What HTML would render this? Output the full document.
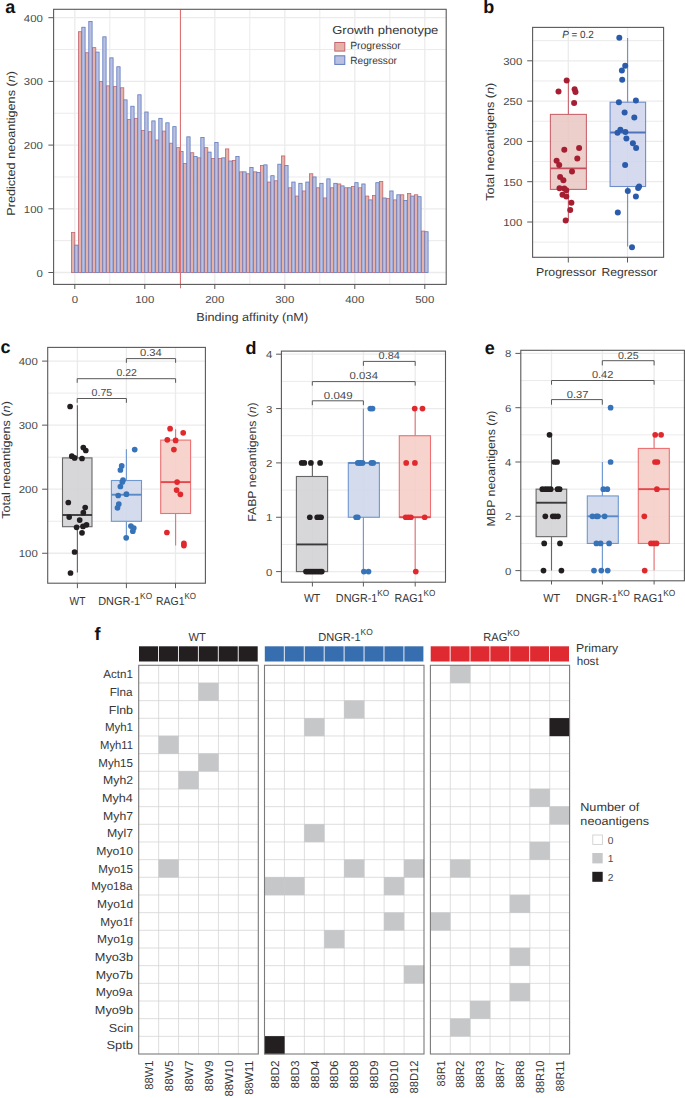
<!DOCTYPE html>
<html><head><meta charset="utf-8"><title>Figure</title>
<style>
html,body{margin:0;padding:0;background:#fff;}
#fig{position:relative;width:685px;height:1098px;overflow:hidden;background:#fff;}
svg{display:block;font-family:"Liberation Sans", sans-serif;text-rendering:geometricPrecision;}
</style></head>
<body><div id="fig">
<svg width="685" height="1098" viewBox="0 0 685 1098">
<line x1="53.6" y1="272.5" x2="446.2" y2="272.5" stroke="#ebebeb" stroke-width="1.3"/>
<line x1="53.6" y1="240.65" x2="446.2" y2="240.65" stroke="#ebebeb" stroke-width="1"/>
<line x1="53.6" y1="208.8" x2="446.2" y2="208.8" stroke="#ebebeb" stroke-width="1.3"/>
<line x1="53.6" y1="176.95" x2="446.2" y2="176.95" stroke="#ebebeb" stroke-width="1"/>
<line x1="53.6" y1="145.1" x2="446.2" y2="145.1" stroke="#ebebeb" stroke-width="1.3"/>
<line x1="53.6" y1="113.25" x2="446.2" y2="113.25" stroke="#ebebeb" stroke-width="1"/>
<line x1="53.6" y1="81.4" x2="446.2" y2="81.4" stroke="#ebebeb" stroke-width="1.3"/>
<line x1="53.6" y1="49.55" x2="446.2" y2="49.55" stroke="#ebebeb" stroke-width="1"/>
<line x1="53.6" y1="17.7" x2="446.2" y2="17.7" stroke="#ebebeb" stroke-width="1.3"/>
<line x1="74.8" y1="9.3" x2="74.8" y2="284.4" stroke="#ebebeb" stroke-width="1.3"/>
<line x1="109.8" y1="9.3" x2="109.8" y2="284.4" stroke="#ebebeb" stroke-width="1"/>
<line x1="144.8" y1="9.3" x2="144.8" y2="284.4" stroke="#ebebeb" stroke-width="1.3"/>
<line x1="179.8" y1="9.3" x2="179.8" y2="284.4" stroke="#ebebeb" stroke-width="1"/>
<line x1="214.8" y1="9.3" x2="214.8" y2="284.4" stroke="#ebebeb" stroke-width="1.3"/>
<line x1="249.8" y1="9.3" x2="249.8" y2="284.4" stroke="#ebebeb" stroke-width="1"/>
<line x1="284.8" y1="9.3" x2="284.8" y2="284.4" stroke="#ebebeb" stroke-width="1.3"/>
<line x1="319.8" y1="9.3" x2="319.8" y2="284.4" stroke="#ebebeb" stroke-width="1"/>
<line x1="354.8" y1="9.3" x2="354.8" y2="284.4" stroke="#ebebeb" stroke-width="1.3"/>
<line x1="389.8" y1="9.3" x2="389.8" y2="284.4" stroke="#ebebeb" stroke-width="1"/>
<line x1="424.8" y1="9.3" x2="424.8" y2="284.4" stroke="#ebebeb" stroke-width="1.3"/>
<rect x="71.5" y="232.37" width="3.3" height="40.13" fill="#e5b2a8" stroke="#c4646e" stroke-width="0.8"/>
<rect x="78.5" y="31.71" width="3.3" height="240.79" fill="#e5b2a8" stroke="#c4646e" stroke-width="0.8"/>
<rect x="85.5" y="52.73" width="3.3" height="219.77" fill="#e5b2a8" stroke="#c4646e" stroke-width="0.8"/>
<rect x="92.5" y="47.64" width="3.3" height="224.86" fill="#e5b2a8" stroke="#c4646e" stroke-width="0.8"/>
<rect x="99.5" y="81.4" width="3.3" height="191.1" fill="#e5b2a8" stroke="#c4646e" stroke-width="0.8"/>
<rect x="106.5" y="85.86" width="3.3" height="186.64" fill="#e5b2a8" stroke="#c4646e" stroke-width="0.8"/>
<rect x="113.5" y="86.5" width="3.3" height="186" fill="#e5b2a8" stroke="#c4646e" stroke-width="0.8"/>
<rect x="120.5" y="87.77" width="3.3" height="184.73" fill="#e5b2a8" stroke="#c4646e" stroke-width="0.8"/>
<rect x="127.5" y="119.62" width="3.3" height="152.88" fill="#e5b2a8" stroke="#c4646e" stroke-width="0.8"/>
<rect x="134.5" y="118.35" width="3.3" height="154.15" fill="#e5b2a8" stroke="#c4646e" stroke-width="0.8"/>
<rect x="141.5" y="130.45" width="3.3" height="142.05" fill="#e5b2a8" stroke="#c4646e" stroke-width="0.8"/>
<rect x="148.5" y="131.72" width="3.3" height="140.78" fill="#e5b2a8" stroke="#c4646e" stroke-width="0.8"/>
<rect x="155.5" y="140" width="3.3" height="132.5" fill="#e5b2a8" stroke="#c4646e" stroke-width="0.8"/>
<rect x="162.5" y="131.09" width="3.3" height="141.41" fill="#e5b2a8" stroke="#c4646e" stroke-width="0.8"/>
<rect x="169.5" y="143.19" width="3.3" height="129.31" fill="#e5b2a8" stroke="#c4646e" stroke-width="0.8"/>
<rect x="176.5" y="147.65" width="3.3" height="124.85" fill="#e5b2a8" stroke="#c4646e" stroke-width="0.8"/>
<rect x="183.5" y="163.57" width="3.3" height="108.93" fill="#e5b2a8" stroke="#c4646e" stroke-width="0.8"/>
<rect x="190.5" y="152.74" width="3.3" height="119.76" fill="#e5b2a8" stroke="#c4646e" stroke-width="0.8"/>
<rect x="197.5" y="157.84" width="3.3" height="114.66" fill="#e5b2a8" stroke="#c4646e" stroke-width="0.8"/>
<rect x="204.5" y="147.65" width="3.3" height="124.85" fill="#e5b2a8" stroke="#c4646e" stroke-width="0.8"/>
<rect x="211.5" y="158.48" width="3.3" height="114.02" fill="#e5b2a8" stroke="#c4646e" stroke-width="0.8"/>
<rect x="218.5" y="158.48" width="3.3" height="114.02" fill="#e5b2a8" stroke="#c4646e" stroke-width="0.8"/>
<rect x="225.5" y="148.92" width="3.3" height="123.58" fill="#e5b2a8" stroke="#c4646e" stroke-width="0.8"/>
<rect x="232.5" y="160.39" width="3.3" height="112.11" fill="#e5b2a8" stroke="#c4646e" stroke-width="0.8"/>
<rect x="239.5" y="171.85" width="3.3" height="100.65" fill="#e5b2a8" stroke="#c4646e" stroke-width="0.8"/>
<rect x="246.5" y="173.76" width="3.3" height="98.74" fill="#e5b2a8" stroke="#c4646e" stroke-width="0.8"/>
<rect x="253.5" y="171.85" width="3.3" height="100.65" fill="#e5b2a8" stroke="#c4646e" stroke-width="0.8"/>
<rect x="260.5" y="165.48" width="3.3" height="107.02" fill="#e5b2a8" stroke="#c4646e" stroke-width="0.8"/>
<rect x="267.5" y="182.05" width="3.3" height="90.45" fill="#e5b2a8" stroke="#c4646e" stroke-width="0.8"/>
<rect x="274.5" y="180.77" width="3.3" height="91.73" fill="#e5b2a8" stroke="#c4646e" stroke-width="0.8"/>
<rect x="281.5" y="155.93" width="3.3" height="116.57" fill="#e5b2a8" stroke="#c4646e" stroke-width="0.8"/>
<rect x="288.5" y="187.78" width="3.3" height="84.72" fill="#e5b2a8" stroke="#c4646e" stroke-width="0.8"/>
<rect x="295.5" y="196.06" width="3.3" height="76.44" fill="#e5b2a8" stroke="#c4646e" stroke-width="0.8"/>
<rect x="302.5" y="190.96" width="3.3" height="81.54" fill="#e5b2a8" stroke="#c4646e" stroke-width="0.8"/>
<rect x="309.5" y="173.76" width="3.3" height="98.74" fill="#e5b2a8" stroke="#c4646e" stroke-width="0.8"/>
<rect x="316.5" y="187.78" width="3.3" height="84.72" fill="#e5b2a8" stroke="#c4646e" stroke-width="0.8"/>
<rect x="323.5" y="197.97" width="3.3" height="74.53" fill="#e5b2a8" stroke="#c4646e" stroke-width="0.8"/>
<rect x="330.5" y="187.78" width="3.3" height="84.72" fill="#e5b2a8" stroke="#c4646e" stroke-width="0.8"/>
<rect x="337.5" y="183.96" width="3.3" height="88.54" fill="#e5b2a8" stroke="#c4646e" stroke-width="0.8"/>
<rect x="344.5" y="187.78" width="3.3" height="84.72" fill="#e5b2a8" stroke="#c4646e" stroke-width="0.8"/>
<rect x="351.5" y="186.5" width="3.3" height="86" fill="#e5b2a8" stroke="#c4646e" stroke-width="0.8"/>
<rect x="358.5" y="187.78" width="3.3" height="84.72" fill="#e5b2a8" stroke="#c4646e" stroke-width="0.8"/>
<rect x="365.5" y="196.06" width="3.3" height="76.44" fill="#e5b2a8" stroke="#c4646e" stroke-width="0.8"/>
<rect x="372.5" y="195.42" width="3.3" height="77.08" fill="#e5b2a8" stroke="#c4646e" stroke-width="0.8"/>
<rect x="379.5" y="181.41" width="3.3" height="91.09" fill="#e5b2a8" stroke="#c4646e" stroke-width="0.8"/>
<rect x="386.5" y="198.61" width="3.3" height="73.89" fill="#e5b2a8" stroke="#c4646e" stroke-width="0.8"/>
<rect x="393.5" y="199.88" width="3.3" height="72.62" fill="#e5b2a8" stroke="#c4646e" stroke-width="0.8"/>
<rect x="400.5" y="194.79" width="3.3" height="77.71" fill="#e5b2a8" stroke="#c4646e" stroke-width="0.8"/>
<rect x="407.5" y="193.51" width="3.3" height="78.99" fill="#e5b2a8" stroke="#c4646e" stroke-width="0.8"/>
<rect x="414.5" y="194.79" width="3.3" height="77.71" fill="#e5b2a8" stroke="#c4646e" stroke-width="0.8"/>
<rect x="421.5" y="231.09" width="3.3" height="41.41" fill="#e5b2a8" stroke="#c4646e" stroke-width="0.8"/>
<rect x="74.8" y="245.11" width="3.3" height="27.39" fill="#b9c0e1" stroke="#5f7bbf" stroke-width="0.8"/>
<rect x="81.8" y="27.25" width="3.3" height="245.25" fill="#b9c0e1" stroke="#5f7bbf" stroke-width="0.8"/>
<rect x="88.8" y="21.52" width="3.3" height="250.98" fill="#b9c0e1" stroke="#5f7bbf" stroke-width="0.8"/>
<rect x="95.8" y="52.1" width="3.3" height="220.4" fill="#b9c0e1" stroke="#5f7bbf" stroke-width="0.8"/>
<rect x="102.8" y="36.81" width="3.3" height="235.69" fill="#b9c0e1" stroke="#5f7bbf" stroke-width="0.8"/>
<rect x="109.8" y="57.83" width="3.3" height="214.67" fill="#b9c0e1" stroke="#5f7bbf" stroke-width="0.8"/>
<rect x="116.8" y="66.75" width="3.3" height="205.75" fill="#b9c0e1" stroke="#5f7bbf" stroke-width="0.8"/>
<rect x="123.8" y="99.87" width="3.3" height="172.63" fill="#b9c0e1" stroke="#5f7bbf" stroke-width="0.8"/>
<rect x="130.8" y="106.24" width="3.3" height="166.26" fill="#b9c0e1" stroke="#5f7bbf" stroke-width="0.8"/>
<rect x="137.8" y="94.78" width="3.3" height="177.72" fill="#b9c0e1" stroke="#5f7bbf" stroke-width="0.8"/>
<rect x="144.8" y="111.98" width="3.3" height="160.52" fill="#b9c0e1" stroke="#5f7bbf" stroke-width="0.8"/>
<rect x="151.8" y="120.89" width="3.3" height="151.61" fill="#b9c0e1" stroke="#5f7bbf" stroke-width="0.8"/>
<rect x="158.8" y="118.35" width="3.3" height="154.15" fill="#b9c0e1" stroke="#5f7bbf" stroke-width="0.8"/>
<rect x="165.8" y="122.81" width="3.3" height="149.69" fill="#b9c0e1" stroke="#5f7bbf" stroke-width="0.8"/>
<rect x="172.8" y="126.63" width="3.3" height="145.87" fill="#b9c0e1" stroke="#5f7bbf" stroke-width="0.8"/>
<rect x="179.8" y="151.47" width="3.3" height="121.03" fill="#b9c0e1" stroke="#5f7bbf" stroke-width="0.8"/>
<rect x="186.8" y="136.82" width="3.3" height="135.68" fill="#b9c0e1" stroke="#5f7bbf" stroke-width="0.8"/>
<rect x="193.8" y="156.57" width="3.3" height="115.93" fill="#b9c0e1" stroke="#5f7bbf" stroke-width="0.8"/>
<rect x="200.8" y="137.46" width="3.3" height="135.04" fill="#b9c0e1" stroke="#5f7bbf" stroke-width="0.8"/>
<rect x="207.8" y="152.11" width="3.3" height="120.39" fill="#b9c0e1" stroke="#5f7bbf" stroke-width="0.8"/>
<rect x="214.8" y="142.55" width="3.3" height="129.95" fill="#b9c0e1" stroke="#5f7bbf" stroke-width="0.8"/>
<rect x="221.8" y="157.84" width="3.3" height="114.66" fill="#b9c0e1" stroke="#5f7bbf" stroke-width="0.8"/>
<rect x="228.8" y="161.02" width="3.3" height="111.48" fill="#b9c0e1" stroke="#5f7bbf" stroke-width="0.8"/>
<rect x="235.8" y="156.57" width="3.3" height="115.93" fill="#b9c0e1" stroke="#5f7bbf" stroke-width="0.8"/>
<rect x="242.8" y="171.85" width="3.3" height="100.65" fill="#b9c0e1" stroke="#5f7bbf" stroke-width="0.8"/>
<rect x="249.8" y="167.39" width="3.3" height="105.11" fill="#b9c0e1" stroke="#5f7bbf" stroke-width="0.8"/>
<rect x="256.8" y="172.49" width="3.3" height="100.01" fill="#b9c0e1" stroke="#5f7bbf" stroke-width="0.8"/>
<rect x="263.8" y="164.85" width="3.3" height="107.65" fill="#b9c0e1" stroke="#5f7bbf" stroke-width="0.8"/>
<rect x="270.8" y="175.68" width="3.3" height="96.82" fill="#b9c0e1" stroke="#5f7bbf" stroke-width="0.8"/>
<rect x="277.8" y="164.21" width="3.3" height="108.29" fill="#b9c0e1" stroke="#5f7bbf" stroke-width="0.8"/>
<rect x="284.8" y="165.48" width="3.3" height="107.02" fill="#b9c0e1" stroke="#5f7bbf" stroke-width="0.8"/>
<rect x="291.8" y="182.05" width="3.3" height="90.45" fill="#b9c0e1" stroke="#5f7bbf" stroke-width="0.8"/>
<rect x="298.8" y="183.32" width="3.3" height="89.18" fill="#b9c0e1" stroke="#5f7bbf" stroke-width="0.8"/>
<rect x="305.8" y="182.05" width="3.3" height="90.45" fill="#b9c0e1" stroke="#5f7bbf" stroke-width="0.8"/>
<rect x="312.8" y="176.95" width="3.3" height="95.55" fill="#b9c0e1" stroke="#5f7bbf" stroke-width="0.8"/>
<rect x="319.8" y="183.32" width="3.3" height="89.18" fill="#b9c0e1" stroke="#5f7bbf" stroke-width="0.8"/>
<rect x="326.8" y="178.86" width="3.3" height="93.64" fill="#b9c0e1" stroke="#5f7bbf" stroke-width="0.8"/>
<rect x="333.8" y="183.32" width="3.3" height="89.18" fill="#b9c0e1" stroke="#5f7bbf" stroke-width="0.8"/>
<rect x="340.8" y="185.87" width="3.3" height="86.63" fill="#b9c0e1" stroke="#5f7bbf" stroke-width="0.8"/>
<rect x="347.8" y="187.78" width="3.3" height="84.72" fill="#b9c0e1" stroke="#5f7bbf" stroke-width="0.8"/>
<rect x="354.8" y="182.68" width="3.3" height="89.82" fill="#b9c0e1" stroke="#5f7bbf" stroke-width="0.8"/>
<rect x="361.8" y="183.96" width="3.3" height="88.54" fill="#b9c0e1" stroke="#5f7bbf" stroke-width="0.8"/>
<rect x="368.8" y="199.88" width="3.3" height="72.62" fill="#b9c0e1" stroke="#5f7bbf" stroke-width="0.8"/>
<rect x="375.8" y="182.68" width="3.3" height="89.82" fill="#b9c0e1" stroke="#5f7bbf" stroke-width="0.8"/>
<rect x="382.8" y="197.97" width="3.3" height="74.53" fill="#b9c0e1" stroke="#5f7bbf" stroke-width="0.8"/>
<rect x="389.8" y="190.96" width="3.3" height="81.54" fill="#b9c0e1" stroke="#5f7bbf" stroke-width="0.8"/>
<rect x="396.8" y="194.79" width="3.3" height="77.71" fill="#b9c0e1" stroke="#5f7bbf" stroke-width="0.8"/>
<rect x="403.8" y="200.52" width="3.3" height="71.98" fill="#b9c0e1" stroke="#5f7bbf" stroke-width="0.8"/>
<rect x="410.8" y="196.06" width="3.3" height="76.44" fill="#b9c0e1" stroke="#5f7bbf" stroke-width="0.8"/>
<rect x="417.8" y="196.7" width="3.3" height="75.8" fill="#b9c0e1" stroke="#5f7bbf" stroke-width="0.8"/>
<rect x="424.8" y="231.73" width="3.3" height="40.77" fill="#b9c0e1" stroke="#5f7bbf" stroke-width="0.8"/>
<line x1="180.5" y1="9.3" x2="180.5" y2="288.3" stroke="#db7274" stroke-width="1"/>
<rect x="53.6" y="9.3" width="392.6" height="275.1" fill="none" stroke="#595959" stroke-width="1.1"/>
<line x1="48.4" y1="272.5" x2="53.6" y2="272.5" stroke="#595959" stroke-width="1"/>
<text x="42.9" y="276.5" font-size="10.2" fill="#4a4a4a" text-anchor="end" textLength="6.35" lengthAdjust="spacingAndGlyphs">0</text>
<line x1="48.4" y1="208.8" x2="53.6" y2="208.8" stroke="#595959" stroke-width="1"/>
<text x="42.9" y="212.8" font-size="10.2" fill="#4a4a4a" text-anchor="end" textLength="19.05" lengthAdjust="spacingAndGlyphs">100</text>
<line x1="48.4" y1="145.1" x2="53.6" y2="145.1" stroke="#595959" stroke-width="1"/>
<text x="42.9" y="149.1" font-size="10.2" fill="#4a4a4a" text-anchor="end" textLength="19.05" lengthAdjust="spacingAndGlyphs">200</text>
<line x1="48.4" y1="81.4" x2="53.6" y2="81.4" stroke="#595959" stroke-width="1"/>
<text x="42.9" y="85.4" font-size="10.2" fill="#4a4a4a" text-anchor="end" textLength="19.05" lengthAdjust="spacingAndGlyphs">300</text>
<line x1="48.4" y1="17.7" x2="53.6" y2="17.7" stroke="#595959" stroke-width="1"/>
<text x="42.9" y="21.7" font-size="10.2" fill="#4a4a4a" text-anchor="end" textLength="19.05" lengthAdjust="spacingAndGlyphs">400</text>
<line x1="74.8" y1="284.4" x2="74.8" y2="289" stroke="#595959" stroke-width="1"/>
<text x="74.8" y="303.2" font-size="10.2" fill="#4a4a4a" text-anchor="middle" textLength="6.35" lengthAdjust="spacingAndGlyphs">0</text>
<line x1="144.8" y1="284.4" x2="144.8" y2="289" stroke="#595959" stroke-width="1"/>
<text x="144.8" y="303.2" font-size="10.2" fill="#4a4a4a" text-anchor="middle" textLength="19.05" lengthAdjust="spacingAndGlyphs">100</text>
<line x1="214.8" y1="284.4" x2="214.8" y2="289" stroke="#595959" stroke-width="1"/>
<text x="214.8" y="303.2" font-size="10.2" fill="#4a4a4a" text-anchor="middle" textLength="19.05" lengthAdjust="spacingAndGlyphs">200</text>
<line x1="284.8" y1="284.4" x2="284.8" y2="289" stroke="#595959" stroke-width="1"/>
<text x="284.8" y="303.2" font-size="10.2" fill="#4a4a4a" text-anchor="middle" textLength="19.05" lengthAdjust="spacingAndGlyphs">300</text>
<line x1="354.8" y1="284.4" x2="354.8" y2="289" stroke="#595959" stroke-width="1"/>
<text x="354.8" y="303.2" font-size="10.2" fill="#4a4a4a" text-anchor="middle" textLength="19.05" lengthAdjust="spacingAndGlyphs">400</text>
<line x1="424.8" y1="284.4" x2="424.8" y2="289" stroke="#595959" stroke-width="1"/>
<text x="424.8" y="303.2" font-size="10.2" fill="#4a4a4a" text-anchor="middle" textLength="19.05" lengthAdjust="spacingAndGlyphs">500</text>
<text x="196.18" y="321.1" font-size="11.6" fill="#363636" textLength="111.97" lengthAdjust="spacingAndGlyphs">Binding affinity (nM)</text>
<text transform="translate(15.3,215.71) rotate(-90)" x="0" y="0" font-size="11.6" fill="#363636" textLength="144.63" lengthAdjust="spacingAndGlyphs">Predicted neoantigens (<tspan font-style="italic">n</tspan>)</text>
<text x="332.25" y="33.8" font-size="11.6" fill="#363636" textLength="106.09" lengthAdjust="spacingAndGlyphs">Growth phenotype</text>
<rect x="334.8" y="42.5" width="10" height="8.6" fill="#e5b2a8" stroke="#c4646e" stroke-width="1"/>
<rect x="334.8" y="55.8" width="10" height="8.6" fill="#b9c0e1" stroke="#5f7bbf" stroke-width="1"/>
<text x="350.17" y="49.2" font-size="10.4" fill="#363636" textLength="50.64" lengthAdjust="spacingAndGlyphs">Progressor</text>
<text x="350.19" y="64.4" font-size="10.4" fill="#363636" textLength="46.74" lengthAdjust="spacingAndGlyphs">Regressor</text>
<text x="5.3" y="12.8" font-size="18" fill="#111" font-weight="bold">a</text>
<line x1="532.6" y1="242.15" x2="663.6" y2="242.15" stroke="#ebebeb" stroke-width="1"/>
<line x1="532.6" y1="222" x2="663.6" y2="222" stroke="#ebebeb" stroke-width="1.3"/>
<line x1="532.6" y1="201.85" x2="663.6" y2="201.85" stroke="#ebebeb" stroke-width="1"/>
<line x1="532.6" y1="181.7" x2="663.6" y2="181.7" stroke="#ebebeb" stroke-width="1.3"/>
<line x1="532.6" y1="161.55" x2="663.6" y2="161.55" stroke="#ebebeb" stroke-width="1"/>
<line x1="532.6" y1="141.4" x2="663.6" y2="141.4" stroke="#ebebeb" stroke-width="1.3"/>
<line x1="532.6" y1="121.25" x2="663.6" y2="121.25" stroke="#ebebeb" stroke-width="1"/>
<line x1="532.6" y1="101.1" x2="663.6" y2="101.1" stroke="#ebebeb" stroke-width="1.3"/>
<line x1="532.6" y1="80.95" x2="663.6" y2="80.95" stroke="#ebebeb" stroke-width="1"/>
<line x1="532.6" y1="60.8" x2="663.6" y2="60.8" stroke="#ebebeb" stroke-width="1.3"/>
<line x1="532.6" y1="40.65" x2="663.6" y2="40.65" stroke="#ebebeb" stroke-width="1"/>
<line x1="568.3" y1="27.4" x2="568.3" y2="257.3" stroke="#ebebeb" stroke-width="1.3"/>
<line x1="627.5" y1="27.4" x2="627.5" y2="257.3" stroke="#ebebeb" stroke-width="1.3"/>
<line x1="568.4" y1="80.6" x2="568.4" y2="114.4" stroke="#c9666f" stroke-width="1.1"/>
<line x1="568.4" y1="189.4" x2="568.4" y2="220.5" stroke="#c9666f" stroke-width="1.1"/>
<rect x="550.4" y="114.4" width="36" height="75" fill="#e9c5c1" stroke="#c9666f" stroke-width="1.1" fill-opacity="0.85"/>
<line x1="550.4" y1="168.3" x2="586.4" y2="168.3" stroke="#c0505c" stroke-width="1.8"/>
<line x1="627.6" y1="38" x2="627.6" y2="102.2" stroke="#6f8dc9" stroke-width="1.1"/>
<line x1="627.6" y1="186.5" x2="627.6" y2="246.6" stroke="#6f8dc9" stroke-width="1.1"/>
<rect x="610.1" y="102.2" width="35.5" height="84.3" fill="#ced3ec" stroke="#6f8dc9" stroke-width="1.1" fill-opacity="0.85"/>
<line x1="610.1" y1="132.5" x2="645.6" y2="132.5" stroke="#4f74bd" stroke-width="1.8"/>
<circle cx="566.7" cy="80.6" r="3" fill="#a51e32"/>
<circle cx="558.5" cy="91.6" r="3" fill="#a51e32"/>
<circle cx="574.6" cy="89.3" r="3" fill="#a51e32"/>
<circle cx="575.5" cy="92" r="3" fill="#a51e32"/>
<circle cx="574.1" cy="103" r="3" fill="#a51e32"/>
<circle cx="564.3" cy="149.7" r="3" fill="#a51e32"/>
<circle cx="579.1" cy="148" r="3" fill="#a51e32"/>
<circle cx="577.3" cy="158.4" r="3" fill="#a51e32"/>
<circle cx="556.6" cy="160.7" r="3" fill="#a51e32"/>
<circle cx="559.2" cy="164.9" r="3" fill="#a51e32"/>
<circle cx="572" cy="171.4" r="3" fill="#a51e32"/>
<circle cx="560.1" cy="177" r="3" fill="#a51e32"/>
<circle cx="563.4" cy="180.3" r="3" fill="#a51e32"/>
<circle cx="559.5" cy="188.2" r="3" fill="#a51e32"/>
<circle cx="564.3" cy="188.6" r="3" fill="#a51e32"/>
<circle cx="566.3" cy="190.2" r="3" fill="#a51e32"/>
<circle cx="562.5" cy="194.7" r="3" fill="#a51e32"/>
<circle cx="566.3" cy="196.5" r="3" fill="#a51e32"/>
<circle cx="571.4" cy="202.8" r="3" fill="#a51e32"/>
<circle cx="570.2" cy="210.1" r="3" fill="#a51e32"/>
<circle cx="565.7" cy="220.5" r="3" fill="#a51e32"/>
<circle cx="619.3" cy="37.8" r="3" fill="#2b5cab"/>
<circle cx="625.2" cy="65.8" r="3" fill="#2b5cab"/>
<circle cx="621.9" cy="70.6" r="3" fill="#2b5cab"/>
<circle cx="622.2" cy="79.7" r="3" fill="#2b5cab"/>
<circle cx="618.9" cy="102.2" r="3" fill="#2b5cab"/>
<circle cx="635.9" cy="100.5" r="3" fill="#2b5cab"/>
<circle cx="624.6" cy="112.6" r="3" fill="#2b5cab"/>
<circle cx="634.3" cy="117.4" r="3" fill="#2b5cab"/>
<circle cx="620.4" cy="129.8" r="3" fill="#2b5cab"/>
<circle cx="617.5" cy="132.7" r="3" fill="#2b5cab"/>
<circle cx="625.4" cy="132.1" r="3" fill="#2b5cab"/>
<circle cx="626.4" cy="138.4" r="3" fill="#2b5cab"/>
<circle cx="632.9" cy="143.2" r="3" fill="#2b5cab"/>
<circle cx="636.1" cy="148.1" r="3" fill="#2b5cab"/>
<circle cx="625.1" cy="164.9" r="3" fill="#2b5cab"/>
<circle cx="627.8" cy="191" r="3" fill="#2b5cab"/>
<circle cx="638.1" cy="188" r="3" fill="#2b5cab"/>
<circle cx="639.1" cy="186.6" r="3" fill="#2b5cab"/>
<circle cx="635.9" cy="196.5" r="3" fill="#2b5cab"/>
<circle cx="617.8" cy="212.5" r="3" fill="#2b5cab"/>
<circle cx="632" cy="247.2" r="3" fill="#2b5cab"/>
<rect x="532.6" y="27.4" width="131" height="229.9" fill="none" stroke="#595959" stroke-width="1.1"/>
<line x1="527.2" y1="222" x2="532.6" y2="222" stroke="#595959" stroke-width="1"/>
<text x="522.3" y="226" font-size="10.2" fill="#4a4a4a" text-anchor="end" textLength="19.05" lengthAdjust="spacingAndGlyphs">100</text>
<line x1="527.2" y1="181.7" x2="532.6" y2="181.7" stroke="#595959" stroke-width="1"/>
<text x="522.3" y="185.7" font-size="10.2" fill="#4a4a4a" text-anchor="end" textLength="19.05" lengthAdjust="spacingAndGlyphs">150</text>
<line x1="527.2" y1="141.4" x2="532.6" y2="141.4" stroke="#595959" stroke-width="1"/>
<text x="522.3" y="145.4" font-size="10.2" fill="#4a4a4a" text-anchor="end" textLength="19.05" lengthAdjust="spacingAndGlyphs">200</text>
<line x1="527.2" y1="101.1" x2="532.6" y2="101.1" stroke="#595959" stroke-width="1"/>
<text x="522.3" y="105.1" font-size="10.2" fill="#4a4a4a" text-anchor="end" textLength="19.05" lengthAdjust="spacingAndGlyphs">250</text>
<line x1="527.2" y1="60.8" x2="532.6" y2="60.8" stroke="#595959" stroke-width="1"/>
<text x="522.3" y="64.8" font-size="10.2" fill="#4a4a4a" text-anchor="end" textLength="19.05" lengthAdjust="spacingAndGlyphs">300</text>
<line x1="568.3" y1="257.3" x2="568.3" y2="262.5" stroke="#595959" stroke-width="1"/>
<line x1="627.5" y1="257.3" x2="627.5" y2="262.5" stroke="#595959" stroke-width="1"/>
<text x="562.2" y="38" font-size="10.4" fill="#363636" textLength="31.63" lengthAdjust="spacingAndGlyphs"><tspan font-style="italic">P</tspan> = 0.2</text>
<text transform="translate(493.7,200.75) rotate(-90)" x="0" y="0" font-size="11.6" fill="#363636" textLength="118.01" lengthAdjust="spacingAndGlyphs">Total neoantigens (<tspan font-style="italic">n</tspan>)</text>
<text x="536.02" y="275.5" font-size="11.6" fill="#363636" textLength="60.12" lengthAdjust="spacingAndGlyphs">Progressor</text>
<text x="601.43" y="275.5" font-size="11.6" fill="#363636" textLength="55.93" lengthAdjust="spacingAndGlyphs">Regressor</text>
<text x="483.2" y="12.9" font-size="18" fill="#111" font-weight="bold">b</text>
<line x1="47.7" y1="553.25" x2="205.4" y2="553.25" stroke="#ebebeb" stroke-width="1.3"/>
<line x1="47.7" y1="521.23" x2="205.4" y2="521.23" stroke="#ebebeb" stroke-width="1"/>
<line x1="47.7" y1="489.2" x2="205.4" y2="489.2" stroke="#ebebeb" stroke-width="1.3"/>
<line x1="47.7" y1="457.18" x2="205.4" y2="457.18" stroke="#ebebeb" stroke-width="1"/>
<line x1="47.7" y1="425.15" x2="205.4" y2="425.15" stroke="#ebebeb" stroke-width="1.3"/>
<line x1="47.7" y1="393.12" x2="205.4" y2="393.12" stroke="#ebebeb" stroke-width="1"/>
<line x1="47.7" y1="361.1" x2="205.4" y2="361.1" stroke="#ebebeb" stroke-width="1.3"/>
<line x1="77.4" y1="347.4" x2="77.4" y2="583.2" stroke="#ebebeb" stroke-width="1.3"/>
<line x1="126.4" y1="347.4" x2="126.4" y2="583.2" stroke="#ebebeb" stroke-width="1.3"/>
<line x1="175.5" y1="347.4" x2="175.5" y2="583.2" stroke="#ebebeb" stroke-width="1.3"/>
<line x1="77.4" y1="405.2" x2="77.4" y2="457.9" stroke="#666666" stroke-width="1.1"/>
<line x1="77.4" y1="526.7" x2="77.4" y2="572.6" stroke="#666666" stroke-width="1.1"/>
<rect x="62.5" y="457.9" width="29.5" height="68.8" fill="#d1d2d4" stroke="#666666" stroke-width="1.1" fill-opacity="0.88"/>
<line x1="62.5" y1="515" x2="92" y2="515" stroke="#3a3a3a" stroke-width="1.9"/>
<line x1="126.4" y1="449.2" x2="126.4" y2="480.5" stroke="#6e98cf" stroke-width="1.1"/>
<line x1="126.4" y1="521.3" x2="126.4" y2="537.6" stroke="#6e98cf" stroke-width="1.1"/>
<rect x="111.4" y="480.5" width="30.1" height="40.8" fill="#cdd6eb" stroke="#6e98cf" stroke-width="1.1" fill-opacity="0.88"/>
<line x1="111.4" y1="494.7" x2="141.5" y2="494.7" stroke="#5a8ac8" stroke-width="1.9"/>
<line x1="175.6" y1="429.2" x2="175.6" y2="440.1" stroke="#eb7174" stroke-width="1.1"/>
<line x1="175.6" y1="513.5" x2="175.6" y2="545.6" stroke="#eb7174" stroke-width="1.1"/>
<rect x="160.7" y="440.1" width="29.9" height="73.4" fill="#f6cdc6" stroke="#eb7174" stroke-width="1.1" fill-opacity="0.88"/>
<line x1="160.7" y1="482.1" x2="190.6" y2="482.1" stroke="#e4474c" stroke-width="1.9"/>
<circle cx="70.1" cy="406.5" r="2.85" fill="#231f20"/>
<circle cx="83.3" cy="447.6" r="2.85" fill="#231f20"/>
<circle cx="85.8" cy="450.5" r="2.85" fill="#231f20"/>
<circle cx="71.8" cy="456.2" r="2.85" fill="#231f20"/>
<circle cx="74.6" cy="457.9" r="2.85" fill="#231f20"/>
<circle cx="82" cy="458.5" r="2.85" fill="#231f20"/>
<circle cx="68.3" cy="502.5" r="2.85" fill="#231f20"/>
<circle cx="85.2" cy="507.6" r="2.85" fill="#231f20"/>
<circle cx="83.3" cy="512.7" r="2.85" fill="#231f20"/>
<circle cx="69.2" cy="517.1" r="2.85" fill="#231f20"/>
<circle cx="79.7" cy="520.1" r="2.85" fill="#231f20"/>
<circle cx="76.6" cy="527.3" r="2.85" fill="#231f20"/>
<circle cx="83" cy="526.4" r="2.85" fill="#231f20"/>
<circle cx="86.5" cy="524.8" r="2.85" fill="#231f20"/>
<circle cx="82" cy="532.8" r="2.85" fill="#231f20"/>
<circle cx="74.6" cy="552" r="2.85" fill="#231f20"/>
<circle cx="70.5" cy="573" r="2.85" fill="#231f20"/>
<circle cx="134.7" cy="449.6" r="2.85" fill="#3773b9"/>
<circle cx="121.7" cy="465.9" r="2.85" fill="#3773b9"/>
<circle cx="120.4" cy="470" r="2.85" fill="#3773b9"/>
<circle cx="123" cy="480.2" r="2.85" fill="#3773b9"/>
<circle cx="122.3" cy="482" r="2.85" fill="#3773b9"/>
<circle cx="120.4" cy="486.5" r="2.85" fill="#3773b9"/>
<circle cx="118.2" cy="495.5" r="2.85" fill="#3773b9"/>
<circle cx="126.4" cy="494.2" r="2.85" fill="#3773b9"/>
<circle cx="118.8" cy="504.1" r="2.85" fill="#3773b9"/>
<circle cx="117.5" cy="507.8" r="2.85" fill="#3773b9"/>
<circle cx="130.9" cy="526.1" r="2.85" fill="#3773b9"/>
<circle cx="133.8" cy="528" r="2.85" fill="#3773b9"/>
<circle cx="132.8" cy="531.2" r="2.85" fill="#3773b9"/>
<circle cx="126.2" cy="537.8" r="2.85" fill="#3773b9"/>
<circle cx="170.1" cy="428.7" r="2.85" fill="#e1282d"/>
<circle cx="183.2" cy="432.8" r="2.85" fill="#e1282d"/>
<circle cx="167.3" cy="439.8" r="2.85" fill="#e1282d"/>
<circle cx="175.6" cy="440.4" r="2.85" fill="#e1282d"/>
<circle cx="173.9" cy="449.6" r="2.85" fill="#e1282d"/>
<circle cx="177.1" cy="482.1" r="2.85" fill="#e1282d"/>
<circle cx="176.6" cy="490.1" r="2.85" fill="#e1282d"/>
<circle cx="180.4" cy="494.3" r="2.85" fill="#e1282d"/>
<circle cx="166.9" cy="532.5" r="2.85" fill="#e1282d"/>
<circle cx="183.9" cy="543.4" r="2.85" fill="#e1282d"/>
<circle cx="183.9" cy="545.6" r="2.85" fill="#e1282d"/>
<rect x="47.7" y="347.4" width="157.7" height="235.8" fill="none" stroke="#595959" stroke-width="1.1"/>
<line x1="42.1" y1="553.25" x2="47.7" y2="553.25" stroke="#595959" stroke-width="1"/>
<text x="37.8" y="557.25" font-size="10.2" fill="#4a4a4a" text-anchor="end" textLength="19.05" lengthAdjust="spacingAndGlyphs">100</text>
<line x1="42.1" y1="489.2" x2="47.7" y2="489.2" stroke="#595959" stroke-width="1"/>
<text x="37.8" y="493.2" font-size="10.2" fill="#4a4a4a" text-anchor="end" textLength="19.05" lengthAdjust="spacingAndGlyphs">200</text>
<line x1="42.1" y1="425.15" x2="47.7" y2="425.15" stroke="#595959" stroke-width="1"/>
<text x="37.8" y="429.15" font-size="10.2" fill="#4a4a4a" text-anchor="end" textLength="19.05" lengthAdjust="spacingAndGlyphs">300</text>
<line x1="42.1" y1="361.1" x2="47.7" y2="361.1" stroke="#595959" stroke-width="1"/>
<text x="37.8" y="365.1" font-size="10.2" fill="#4a4a4a" text-anchor="end" textLength="19.05" lengthAdjust="spacingAndGlyphs">400</text>
<line x1="77.4" y1="583.2" x2="77.4" y2="588.2" stroke="#595959" stroke-width="1"/>
<line x1="126.4" y1="583.2" x2="126.4" y2="588.2" stroke="#595959" stroke-width="1"/>
<line x1="175.5" y1="583.2" x2="175.5" y2="588.2" stroke="#595959" stroke-width="1"/>
<path d="M126.4,362.8 L126.4,358.6 L175.6,358.6 L175.6,362.8" fill="none" stroke="#595959" stroke-width="1"/>
<path d="M77.2,382.8 L77.2,378.7 L175.6,378.7 L175.6,382.8" fill="none" stroke="#595959" stroke-width="1"/>
<path d="M77.2,402.8 L77.2,398.5 L126.4,398.5 L126.4,402.8" fill="none" stroke="#595959" stroke-width="1"/>
<text x="139.91" y="356.4" font-size="10.2" fill="#4a4a4a" textLength="21.89" lengthAdjust="spacingAndGlyphs">0.34</text>
<text x="116.43" y="376.1" font-size="10.2" fill="#4a4a4a" textLength="20.35" lengthAdjust="spacingAndGlyphs">0.22</text>
<text x="91.63" y="395.8" font-size="10.2" fill="#4a4a4a" textLength="20.61" lengthAdjust="spacingAndGlyphs">0.75</text>
<text transform="translate(10.4,518.85) rotate(-90)" x="0" y="0" font-size="11.6" fill="#363636" textLength="117.7" lengthAdjust="spacingAndGlyphs">Total neoantigens (<tspan font-style="italic">n</tspan>)</text>
<text x="69.5" y="604.9" font-size="11.6" fill="#363636" textLength="15.9" lengthAdjust="spacingAndGlyphs">WT</text>
<text x="98.23" y="604.9" font-size="11.6" fill="#363636" textLength="53.89" lengthAdjust="spacingAndGlyphs">DNGR-1<tspan font-size="8.82" dy="-5.8">KO</tspan></text>
<text x="155.96" y="604.9" font-size="11.6" fill="#363636" textLength="40.04" lengthAdjust="spacingAndGlyphs">RAG1<tspan font-size="8.82" dy="-5.8">KO</tspan></text>
<text x="0.4" y="353.4" font-size="18" fill="#111" font-weight="bold">c</text>
<line x1="281.4" y1="571.6" x2="445.5" y2="571.6" stroke="#ebebeb" stroke-width="1.3"/>
<line x1="281.4" y1="544.43" x2="445.5" y2="544.43" stroke="#ebebeb" stroke-width="1"/>
<line x1="281.4" y1="517.25" x2="445.5" y2="517.25" stroke="#ebebeb" stroke-width="1.3"/>
<line x1="281.4" y1="490.08" x2="445.5" y2="490.08" stroke="#ebebeb" stroke-width="1"/>
<line x1="281.4" y1="462.9" x2="445.5" y2="462.9" stroke="#ebebeb" stroke-width="1.3"/>
<line x1="281.4" y1="435.73" x2="445.5" y2="435.73" stroke="#ebebeb" stroke-width="1"/>
<line x1="281.4" y1="408.55" x2="445.5" y2="408.55" stroke="#ebebeb" stroke-width="1.3"/>
<line x1="281.4" y1="381.38" x2="445.5" y2="381.38" stroke="#ebebeb" stroke-width="1"/>
<line x1="281.4" y1="354.2" x2="445.5" y2="354.2" stroke="#ebebeb" stroke-width="1.3"/>
<line x1="312.4" y1="351.1" x2="312.4" y2="582.2" stroke="#ebebeb" stroke-width="1.3"/>
<line x1="363.4" y1="351.1" x2="363.4" y2="582.2" stroke="#ebebeb" stroke-width="1.3"/>
<line x1="415.2" y1="351.1" x2="415.2" y2="582.2" stroke="#ebebeb" stroke-width="1.3"/>
<line x1="312.4" y1="462.9" x2="312.4" y2="476.49" stroke="#666666" stroke-width="1.1"/>
<rect x="296.4" y="476.49" width="31.2" height="95.11" fill="#d1d2d4" stroke="#666666" stroke-width="1.1" fill-opacity="0.88"/>
<line x1="296.4" y1="544.43" x2="327.6" y2="544.43" stroke="#3a3a3a" stroke-width="1.9"/>
<line x1="363.4" y1="408.55" x2="363.4" y2="462.9" stroke="#6e98cf" stroke-width="1.1"/>
<line x1="363.4" y1="517.25" x2="363.4" y2="571.6" stroke="#6e98cf" stroke-width="1.1"/>
<rect x="348.3" y="462.9" width="31.1" height="54.35" fill="#cdd6eb" stroke="#6e98cf" stroke-width="1.1" fill-opacity="0.88"/>
<line x1="348.3" y1="462.9" x2="379.4" y2="462.9" stroke="#5a8ac8" stroke-width="1.9"/>
<line x1="415.2" y1="408.55" x2="415.2" y2="435.73" stroke="#eb7174" stroke-width="1.1"/>
<line x1="415.2" y1="517.25" x2="415.2" y2="571.6" stroke="#eb7174" stroke-width="1.1"/>
<rect x="399.3" y="435.73" width="31.2" height="81.52" fill="#f6cdc6" stroke="#eb7174" stroke-width="1.1" fill-opacity="0.88"/>
<line x1="399.3" y1="517.25" x2="430.5" y2="517.25" stroke="#e4474c" stroke-width="1.9"/>
<circle cx="301.7" cy="462.9" r="2.85" fill="#231f20"/>
<circle cx="304.3" cy="462.9" r="2.85" fill="#231f20"/>
<circle cx="310.9" cy="462.9" r="2.85" fill="#231f20"/>
<circle cx="320.1" cy="462.9" r="2.85" fill="#231f20"/>
<circle cx="309.8" cy="517.25" r="2.85" fill="#231f20"/>
<circle cx="317.2" cy="517.25" r="2.85" fill="#231f20"/>
<circle cx="319.4" cy="517.25" r="2.85" fill="#231f20"/>
<circle cx="321.1" cy="517.25" r="2.85" fill="#231f20"/>
<circle cx="306" cy="571.6" r="2.85" fill="#231f20"/>
<circle cx="308" cy="571.6" r="2.85" fill="#231f20"/>
<circle cx="310" cy="571.6" r="2.85" fill="#231f20"/>
<circle cx="312" cy="571.6" r="2.85" fill="#231f20"/>
<circle cx="314" cy="571.6" r="2.85" fill="#231f20"/>
<circle cx="316" cy="571.6" r="2.85" fill="#231f20"/>
<circle cx="318" cy="571.6" r="2.85" fill="#231f20"/>
<circle cx="320" cy="571.6" r="2.85" fill="#231f20"/>
<circle cx="321.8" cy="571.6" r="2.85" fill="#231f20"/>
<circle cx="370.3" cy="408.55" r="2.85" fill="#3773b9"/>
<circle cx="372.5" cy="408.55" r="2.85" fill="#3773b9"/>
<circle cx="357.8" cy="462.9" r="2.85" fill="#3773b9"/>
<circle cx="359.3" cy="462.9" r="2.85" fill="#3773b9"/>
<circle cx="360.9" cy="462.9" r="2.85" fill="#3773b9"/>
<circle cx="362.5" cy="462.9" r="2.85" fill="#3773b9"/>
<circle cx="371.4" cy="462.9" r="2.85" fill="#3773b9"/>
<circle cx="373.2" cy="462.9" r="2.85" fill="#3773b9"/>
<circle cx="356.1" cy="517.25" r="2.85" fill="#3773b9"/>
<circle cx="357.8" cy="517.25" r="2.85" fill="#3773b9"/>
<circle cx="363.9" cy="571.6" r="2.85" fill="#3773b9"/>
<circle cx="368.5" cy="571.6" r="2.85" fill="#3773b9"/>
<circle cx="414.7" cy="408.55" r="2.85" fill="#e1282d"/>
<circle cx="422.5" cy="408.55" r="2.85" fill="#e1282d"/>
<circle cx="406.2" cy="462.9" r="2.85" fill="#e1282d"/>
<circle cx="414.9" cy="462.9" r="2.85" fill="#e1282d"/>
<circle cx="405.7" cy="517.25" r="2.85" fill="#e1282d"/>
<circle cx="408.3" cy="517.25" r="2.85" fill="#e1282d"/>
<circle cx="410.9" cy="517.25" r="2.85" fill="#e1282d"/>
<circle cx="424.7" cy="517.25" r="2.85" fill="#e1282d"/>
<circle cx="415.8" cy="571.6" r="2.85" fill="#e1282d"/>
<rect x="281.4" y="351.1" width="164.1" height="231.1" fill="none" stroke="#595959" stroke-width="1.1"/>
<line x1="276.1" y1="571.6" x2="281.4" y2="571.6" stroke="#595959" stroke-width="1"/>
<text x="272.4" y="575.6" font-size="10.2" fill="#4a4a4a" text-anchor="end" textLength="6.35" lengthAdjust="spacingAndGlyphs">0</text>
<line x1="276.1" y1="517.25" x2="281.4" y2="517.25" stroke="#595959" stroke-width="1"/>
<text x="272.4" y="521.25" font-size="10.2" fill="#4a4a4a" text-anchor="end" textLength="6.35" lengthAdjust="spacingAndGlyphs">1</text>
<line x1="276.1" y1="462.9" x2="281.4" y2="462.9" stroke="#595959" stroke-width="1"/>
<text x="272.4" y="466.9" font-size="10.2" fill="#4a4a4a" text-anchor="end" textLength="6.35" lengthAdjust="spacingAndGlyphs">2</text>
<line x1="276.1" y1="408.55" x2="281.4" y2="408.55" stroke="#595959" stroke-width="1"/>
<text x="272.4" y="412.55" font-size="10.2" fill="#4a4a4a" text-anchor="end" textLength="6.35" lengthAdjust="spacingAndGlyphs">3</text>
<line x1="276.1" y1="354.2" x2="281.4" y2="354.2" stroke="#595959" stroke-width="1"/>
<text x="272.4" y="358.2" font-size="10.2" fill="#4a4a4a" text-anchor="end" textLength="6.35" lengthAdjust="spacingAndGlyphs">4</text>
<line x1="312.4" y1="582.2" x2="312.4" y2="586.5" stroke="#595959" stroke-width="1"/>
<line x1="363.4" y1="582.2" x2="363.4" y2="586.5" stroke="#595959" stroke-width="1"/>
<line x1="415.2" y1="582.2" x2="415.2" y2="586.5" stroke="#595959" stroke-width="1"/>
<path d="M363.4,365.8 L363.4,361.4 L415.2,361.4 L415.2,365.8" fill="none" stroke="#595959" stroke-width="1"/>
<path d="M312.3,385.6 L312.3,381.6 L415.2,381.6 L415.2,385.6" fill="none" stroke="#595959" stroke-width="1"/>
<path d="M312.3,405.2 L312.3,400.8 L363.4,400.8 L363.4,405.2" fill="none" stroke="#595959" stroke-width="1"/>
<text x="378.62" y="359.2" font-size="10.2" fill="#4a4a4a" textLength="21.27" lengthAdjust="spacingAndGlyphs">0.84</text>
<text x="349.5" y="378.9" font-size="10.2" fill="#4a4a4a" textLength="28.51" lengthAdjust="spacingAndGlyphs">0.034</text>
<text x="323.8" y="398.6" font-size="10.2" fill="#4a4a4a" textLength="28.85" lengthAdjust="spacingAndGlyphs">0.049</text>
<text transform="translate(255.6,521.78) rotate(-90)" x="0" y="0" font-size="11.6" fill="#363636" textLength="119.46" lengthAdjust="spacingAndGlyphs">FABP neoantigens (<tspan font-style="italic">n</tspan>)</text>
<text x="303.9" y="602" font-size="11.6" fill="#363636" textLength="16.41" lengthAdjust="spacingAndGlyphs">WT</text>
<text x="335.83" y="601.9" font-size="11.6" fill="#363636" textLength="53.38" lengthAdjust="spacingAndGlyphs">DNGR-1<tspan font-size="8.82" dy="-5.8">KO</tspan></text>
<text x="394.44" y="601.9" font-size="11.6" fill="#363636" textLength="40.86" lengthAdjust="spacingAndGlyphs">RAG1<tspan font-size="8.82" dy="-5.8">KO</tspan></text>
<text x="245.6" y="353.5" font-size="18" fill="#111" font-weight="bold">d</text>
<line x1="520.8" y1="570.6" x2="684.4" y2="570.6" stroke="#ebebeb" stroke-width="1.3"/>
<line x1="520.8" y1="543.45" x2="684.4" y2="543.45" stroke="#ebebeb" stroke-width="1"/>
<line x1="520.8" y1="516.3" x2="684.4" y2="516.3" stroke="#ebebeb" stroke-width="1.3"/>
<line x1="520.8" y1="489.15" x2="684.4" y2="489.15" stroke="#ebebeb" stroke-width="1"/>
<line x1="520.8" y1="462" x2="684.4" y2="462" stroke="#ebebeb" stroke-width="1.3"/>
<line x1="520.8" y1="434.85" x2="684.4" y2="434.85" stroke="#ebebeb" stroke-width="1"/>
<line x1="520.8" y1="407.7" x2="684.4" y2="407.7" stroke="#ebebeb" stroke-width="1.3"/>
<line x1="520.8" y1="380.55" x2="684.4" y2="380.55" stroke="#ebebeb" stroke-width="1"/>
<line x1="520.8" y1="353.4" x2="684.4" y2="353.4" stroke="#ebebeb" stroke-width="1.3"/>
<line x1="551.5" y1="350.3" x2="551.5" y2="580.8" stroke="#ebebeb" stroke-width="1.3"/>
<line x1="602.4" y1="350.3" x2="602.4" y2="580.8" stroke="#ebebeb" stroke-width="1.3"/>
<line x1="654.1" y1="350.3" x2="654.1" y2="580.8" stroke="#ebebeb" stroke-width="1.3"/>
<line x1="551.5" y1="434.85" x2="551.5" y2="489.15" stroke="#666666" stroke-width="1.1"/>
<line x1="551.5" y1="536.66" x2="551.5" y2="570.6" stroke="#666666" stroke-width="1.1"/>
<rect x="536.1" y="489.15" width="30.6" height="47.51" fill="#d1d2d4" stroke="#666666" stroke-width="1.1" fill-opacity="0.88"/>
<line x1="536.1" y1="502.73" x2="566.7" y2="502.73" stroke="#3a3a3a" stroke-width="1.9"/>
<line x1="602.4" y1="462" x2="602.4" y2="495.94" stroke="#6e98cf" stroke-width="1.1"/>
<line x1="602.4" y1="543.45" x2="602.4" y2="570.6" stroke="#6e98cf" stroke-width="1.1"/>
<rect x="587.3" y="495.94" width="31" height="47.51" fill="#cdd6eb" stroke="#6e98cf" stroke-width="1.1" fill-opacity="0.88"/>
<line x1="587.3" y1="516.3" x2="618.3" y2="516.3" stroke="#5a8ac8" stroke-width="1.9"/>
<line x1="654.1" y1="434.85" x2="654.1" y2="448.43" stroke="#eb7174" stroke-width="1.1"/>
<line x1="654.1" y1="543.45" x2="654.1" y2="570.6" stroke="#eb7174" stroke-width="1.1"/>
<rect x="638.3" y="448.43" width="31" height="95.03" fill="#f6cdc6" stroke="#eb7174" stroke-width="1.1" fill-opacity="0.88"/>
<line x1="638.3" y1="489.15" x2="669.3" y2="489.15" stroke="#e4474c" stroke-width="1.9"/>
<circle cx="549.5" cy="434.85" r="2.85" fill="#231f20"/>
<circle cx="554.4" cy="462" r="2.85" fill="#231f20"/>
<circle cx="557.1" cy="462" r="2.85" fill="#231f20"/>
<circle cx="542.3" cy="489.15" r="2.85" fill="#231f20"/>
<circle cx="545.3" cy="489.15" r="2.85" fill="#231f20"/>
<circle cx="548" cy="489.15" r="2.85" fill="#231f20"/>
<circle cx="550.7" cy="489.15" r="2.85" fill="#231f20"/>
<circle cx="557.6" cy="489.15" r="2.85" fill="#231f20"/>
<circle cx="559.6" cy="489.15" r="2.85" fill="#231f20"/>
<circle cx="545.3" cy="516.3" r="2.85" fill="#231f20"/>
<circle cx="552.8" cy="516.3" r="2.85" fill="#231f20"/>
<circle cx="555.2" cy="516.3" r="2.85" fill="#231f20"/>
<circle cx="558" cy="516.3" r="2.85" fill="#231f20"/>
<circle cx="544.2" cy="543.45" r="2.85" fill="#231f20"/>
<circle cx="560" cy="543.45" r="2.85" fill="#231f20"/>
<circle cx="543.5" cy="570.6" r="2.85" fill="#231f20"/>
<circle cx="561.4" cy="570.6" r="2.85" fill="#231f20"/>
<circle cx="610.6" cy="407.7" r="2.85" fill="#3773b9"/>
<circle cx="610.6" cy="462" r="2.85" fill="#3773b9"/>
<circle cx="603.3" cy="489.15" r="2.85" fill="#3773b9"/>
<circle cx="607.3" cy="489.15" r="2.85" fill="#3773b9"/>
<circle cx="592.4" cy="516.3" r="2.85" fill="#3773b9"/>
<circle cx="596.4" cy="516.3" r="2.85" fill="#3773b9"/>
<circle cx="597.9" cy="516.3" r="2.85" fill="#3773b9"/>
<circle cx="604.6" cy="516.3" r="2.85" fill="#3773b9"/>
<circle cx="596.4" cy="543.45" r="2.85" fill="#3773b9"/>
<circle cx="600.6" cy="543.45" r="2.85" fill="#3773b9"/>
<circle cx="609.1" cy="543.45" r="2.85" fill="#3773b9"/>
<circle cx="594" cy="570.6" r="2.85" fill="#3773b9"/>
<circle cx="601.3" cy="570.6" r="2.85" fill="#3773b9"/>
<circle cx="607.7" cy="570.6" r="2.85" fill="#3773b9"/>
<circle cx="655.2" cy="434.85" r="2.85" fill="#e1282d"/>
<circle cx="661.1" cy="434.85" r="2.85" fill="#e1282d"/>
<circle cx="655" cy="462" r="2.85" fill="#e1282d"/>
<circle cx="657.4" cy="462" r="2.85" fill="#e1282d"/>
<circle cx="656.9" cy="489.15" r="2.85" fill="#e1282d"/>
<circle cx="644.3" cy="516.3" r="2.85" fill="#e1282d"/>
<circle cx="651" cy="543.45" r="2.85" fill="#e1282d"/>
<circle cx="653.8" cy="543.45" r="2.85" fill="#e1282d"/>
<circle cx="656.5" cy="543.45" r="2.85" fill="#e1282d"/>
<circle cx="644.7" cy="570.6" r="2.85" fill="#e1282d"/>
<rect x="520.8" y="350.3" width="163.6" height="230.5" fill="none" stroke="#595959" stroke-width="1.1"/>
<line x1="515.4" y1="570.6" x2="520.8" y2="570.6" stroke="#595959" stroke-width="1"/>
<text x="511.4" y="574.6" font-size="10.2" fill="#4a4a4a" text-anchor="end" textLength="6.35" lengthAdjust="spacingAndGlyphs">0</text>
<line x1="515.4" y1="516.3" x2="520.8" y2="516.3" stroke="#595959" stroke-width="1"/>
<text x="511.4" y="520.3" font-size="10.2" fill="#4a4a4a" text-anchor="end" textLength="6.35" lengthAdjust="spacingAndGlyphs">2</text>
<line x1="515.4" y1="462" x2="520.8" y2="462" stroke="#595959" stroke-width="1"/>
<text x="511.4" y="466" font-size="10.2" fill="#4a4a4a" text-anchor="end" textLength="6.35" lengthAdjust="spacingAndGlyphs">4</text>
<line x1="515.4" y1="407.7" x2="520.8" y2="407.7" stroke="#595959" stroke-width="1"/>
<text x="511.4" y="411.7" font-size="10.2" fill="#4a4a4a" text-anchor="end" textLength="6.35" lengthAdjust="spacingAndGlyphs">6</text>
<line x1="515.4" y1="353.4" x2="520.8" y2="353.4" stroke="#595959" stroke-width="1"/>
<text x="511.4" y="357.4" font-size="10.2" fill="#4a4a4a" text-anchor="end" textLength="6.35" lengthAdjust="spacingAndGlyphs">8</text>
<line x1="551.5" y1="580.8" x2="551.5" y2="584.5" stroke="#595959" stroke-width="1"/>
<line x1="602.4" y1="580.8" x2="602.4" y2="584.5" stroke="#595959" stroke-width="1"/>
<line x1="654.1" y1="580.8" x2="654.1" y2="584.5" stroke="#595959" stroke-width="1"/>
<path d="M602.3,365.4 L602.3,360.7 L654.1,360.7 L654.1,365.4" fill="none" stroke="#595959" stroke-width="1"/>
<path d="M551.5,384.7 L551.5,380.5 L654.1,380.5 L654.1,384.7" fill="none" stroke="#595959" stroke-width="1"/>
<path d="M551.5,404.7 L551.5,399.6 L602.3,399.6 L602.3,404.7" fill="none" stroke="#595959" stroke-width="1"/>
<text x="617.93" y="358.6" font-size="10.2" fill="#4a4a4a" textLength="20.71" lengthAdjust="spacingAndGlyphs">0.25</text>
<text x="591.91" y="377.8" font-size="10.2" fill="#4a4a4a" textLength="21.5" lengthAdjust="spacingAndGlyphs">0.42</text>
<text x="566.71" y="397.8" font-size="10.2" fill="#4a4a4a" textLength="21.81" lengthAdjust="spacingAndGlyphs">0.37</text>
<text transform="translate(495.3,526.39) rotate(-90)" x="0" y="0" font-size="11.6" fill="#363636" textLength="115.88" lengthAdjust="spacingAndGlyphs">MBP neoantigens (<tspan font-style="italic">n</tspan>)</text>
<text x="543.2" y="601.9" font-size="11.6" fill="#363636" textLength="16.91" lengthAdjust="spacingAndGlyphs">WT</text>
<text x="575.82" y="601.9" font-size="11.6" fill="#363636" textLength="53.99" lengthAdjust="spacingAndGlyphs">DNGR-1<tspan font-size="8.82" dy="-5.8">KO</tspan></text>
<text x="633.53" y="601.9" font-size="11.6" fill="#363636" textLength="41.79" lengthAdjust="spacingAndGlyphs">RAG1<tspan font-size="8.82" dy="-5.8">KO</tspan></text>
<text x="484.8" y="353.5" font-size="18" fill="#111" font-weight="bold">e</text>
<rect x="139" y="646.3" width="19.03" height="15.2" fill="#231f20"/>
<rect x="158.93" y="646.3" width="19.03" height="15.2" fill="#231f20"/>
<rect x="178.87" y="646.3" width="19.03" height="15.2" fill="#231f20"/>
<rect x="198.8" y="646.3" width="19.03" height="15.2" fill="#231f20"/>
<rect x="218.73" y="646.3" width="19.03" height="15.2" fill="#231f20"/>
<rect x="238.67" y="646.3" width="19.03" height="15.2" fill="#231f20"/>
<line x1="158.63" y1="665.3" x2="158.63" y2="1054" stroke="#d6d6d6" stroke-width="0.8"/>
<line x1="178.57" y1="665.3" x2="178.57" y2="1054" stroke="#d6d6d6" stroke-width="0.8"/>
<line x1="198.5" y1="665.3" x2="198.5" y2="1054" stroke="#d6d6d6" stroke-width="0.8"/>
<line x1="218.43" y1="665.3" x2="218.43" y2="1054" stroke="#d6d6d6" stroke-width="0.8"/>
<line x1="238.37" y1="665.3" x2="238.37" y2="1054" stroke="#d6d6d6" stroke-width="0.8"/>
<line x1="138.7" y1="682.97" x2="258.3" y2="682.97" stroke="#d6d6d6" stroke-width="0.8"/>
<line x1="138.7" y1="700.64" x2="258.3" y2="700.64" stroke="#d6d6d6" stroke-width="0.8"/>
<line x1="138.7" y1="718.3" x2="258.3" y2="718.3" stroke="#d6d6d6" stroke-width="0.8"/>
<line x1="138.7" y1="735.97" x2="258.3" y2="735.97" stroke="#d6d6d6" stroke-width="0.8"/>
<line x1="138.7" y1="753.64" x2="258.3" y2="753.64" stroke="#d6d6d6" stroke-width="0.8"/>
<line x1="138.7" y1="771.31" x2="258.3" y2="771.31" stroke="#d6d6d6" stroke-width="0.8"/>
<line x1="138.7" y1="788.98" x2="258.3" y2="788.98" stroke="#d6d6d6" stroke-width="0.8"/>
<line x1="138.7" y1="806.65" x2="258.3" y2="806.65" stroke="#d6d6d6" stroke-width="0.8"/>
<line x1="138.7" y1="824.31" x2="258.3" y2="824.31" stroke="#d6d6d6" stroke-width="0.8"/>
<line x1="138.7" y1="841.98" x2="258.3" y2="841.98" stroke="#d6d6d6" stroke-width="0.8"/>
<line x1="138.7" y1="859.65" x2="258.3" y2="859.65" stroke="#d6d6d6" stroke-width="0.8"/>
<line x1="138.7" y1="877.32" x2="258.3" y2="877.32" stroke="#d6d6d6" stroke-width="0.8"/>
<line x1="138.7" y1="894.99" x2="258.3" y2="894.99" stroke="#d6d6d6" stroke-width="0.8"/>
<line x1="138.7" y1="912.65" x2="258.3" y2="912.65" stroke="#d6d6d6" stroke-width="0.8"/>
<line x1="138.7" y1="930.32" x2="258.3" y2="930.32" stroke="#d6d6d6" stroke-width="0.8"/>
<line x1="138.7" y1="947.99" x2="258.3" y2="947.99" stroke="#d6d6d6" stroke-width="0.8"/>
<line x1="138.7" y1="965.66" x2="258.3" y2="965.66" stroke="#d6d6d6" stroke-width="0.8"/>
<line x1="138.7" y1="983.33" x2="258.3" y2="983.33" stroke="#d6d6d6" stroke-width="0.8"/>
<line x1="138.7" y1="1001" x2="258.3" y2="1001" stroke="#d6d6d6" stroke-width="0.8"/>
<line x1="138.7" y1="1018.66" x2="258.3" y2="1018.66" stroke="#d6d6d6" stroke-width="0.8"/>
<line x1="138.7" y1="1036.33" x2="258.3" y2="1036.33" stroke="#d6d6d6" stroke-width="0.8"/>
<rect x="198.3" y="682.77" width="20.33" height="18.07" fill="#c6c7c9"/>
<rect x="158.43" y="735.77" width="20.33" height="18.07" fill="#c6c7c9"/>
<rect x="198.3" y="753.44" width="20.33" height="18.07" fill="#c6c7c9"/>
<rect x="178.37" y="771.11" width="20.33" height="18.07" fill="#c6c7c9"/>
<rect x="158.43" y="859.45" width="20.33" height="18.07" fill="#c6c7c9"/>
<rect x="138.7" y="665.3" width="119.6" height="388.7" fill="none" stroke="#7a7a7a" stroke-width="1.1"/>
<text transform="translate(152.87,1060.5) rotate(-90)" x="0" y="0" font-size="11.6" fill="#363636" text-anchor="end" textLength="29.2" lengthAdjust="spacingAndGlyphs">88W1</text>
<text transform="translate(172.8,1060.5) rotate(-90)" x="0" y="0" font-size="11.6" fill="#363636" text-anchor="end" textLength="30.9" lengthAdjust="spacingAndGlyphs">88W5</text>
<text transform="translate(192.73,1060.5) rotate(-90)" x="0" y="0" font-size="11.6" fill="#363636" text-anchor="end" textLength="30.9" lengthAdjust="spacingAndGlyphs">88W7</text>
<text transform="translate(212.67,1060.5) rotate(-90)" x="0" y="0" font-size="11.6" fill="#363636" text-anchor="end" textLength="30.9" lengthAdjust="spacingAndGlyphs">88W9</text>
<text transform="translate(232.6,1060.5) rotate(-90)" x="0" y="0" font-size="11.6" fill="#363636" text-anchor="end" textLength="36.1" lengthAdjust="spacingAndGlyphs">88W10</text>
<text transform="translate(252.53,1060.5) rotate(-90)" x="0" y="0" font-size="11.6" fill="#363636" text-anchor="end" textLength="34.2" lengthAdjust="spacingAndGlyphs">88W11</text>
<rect x="264.8" y="646.3" width="19.04" height="15.2" fill="#376eaf"/>
<rect x="284.74" y="646.3" width="19.04" height="15.2" fill="#376eaf"/>
<rect x="304.68" y="646.3" width="19.04" height="15.2" fill="#376eaf"/>
<rect x="324.61" y="646.3" width="19.04" height="15.2" fill="#376eaf"/>
<rect x="344.55" y="646.3" width="19.04" height="15.2" fill="#376eaf"/>
<rect x="364.49" y="646.3" width="19.04" height="15.2" fill="#376eaf"/>
<rect x="384.43" y="646.3" width="19.04" height="15.2" fill="#376eaf"/>
<rect x="404.36" y="646.3" width="19.04" height="15.2" fill="#376eaf"/>
<line x1="284.44" y1="665.3" x2="284.44" y2="1054" stroke="#d6d6d6" stroke-width="0.8"/>
<line x1="304.38" y1="665.3" x2="304.38" y2="1054" stroke="#d6d6d6" stroke-width="0.8"/>
<line x1="324.31" y1="665.3" x2="324.31" y2="1054" stroke="#d6d6d6" stroke-width="0.8"/>
<line x1="344.25" y1="665.3" x2="344.25" y2="1054" stroke="#d6d6d6" stroke-width="0.8"/>
<line x1="364.19" y1="665.3" x2="364.19" y2="1054" stroke="#d6d6d6" stroke-width="0.8"/>
<line x1="384.12" y1="665.3" x2="384.12" y2="1054" stroke="#d6d6d6" stroke-width="0.8"/>
<line x1="404.06" y1="665.3" x2="404.06" y2="1054" stroke="#d6d6d6" stroke-width="0.8"/>
<line x1="264.5" y1="682.97" x2="424" y2="682.97" stroke="#d6d6d6" stroke-width="0.8"/>
<line x1="264.5" y1="700.64" x2="424" y2="700.64" stroke="#d6d6d6" stroke-width="0.8"/>
<line x1="264.5" y1="718.3" x2="424" y2="718.3" stroke="#d6d6d6" stroke-width="0.8"/>
<line x1="264.5" y1="735.97" x2="424" y2="735.97" stroke="#d6d6d6" stroke-width="0.8"/>
<line x1="264.5" y1="753.64" x2="424" y2="753.64" stroke="#d6d6d6" stroke-width="0.8"/>
<line x1="264.5" y1="771.31" x2="424" y2="771.31" stroke="#d6d6d6" stroke-width="0.8"/>
<line x1="264.5" y1="788.98" x2="424" y2="788.98" stroke="#d6d6d6" stroke-width="0.8"/>
<line x1="264.5" y1="806.65" x2="424" y2="806.65" stroke="#d6d6d6" stroke-width="0.8"/>
<line x1="264.5" y1="824.31" x2="424" y2="824.31" stroke="#d6d6d6" stroke-width="0.8"/>
<line x1="264.5" y1="841.98" x2="424" y2="841.98" stroke="#d6d6d6" stroke-width="0.8"/>
<line x1="264.5" y1="859.65" x2="424" y2="859.65" stroke="#d6d6d6" stroke-width="0.8"/>
<line x1="264.5" y1="877.32" x2="424" y2="877.32" stroke="#d6d6d6" stroke-width="0.8"/>
<line x1="264.5" y1="894.99" x2="424" y2="894.99" stroke="#d6d6d6" stroke-width="0.8"/>
<line x1="264.5" y1="912.65" x2="424" y2="912.65" stroke="#d6d6d6" stroke-width="0.8"/>
<line x1="264.5" y1="930.32" x2="424" y2="930.32" stroke="#d6d6d6" stroke-width="0.8"/>
<line x1="264.5" y1="947.99" x2="424" y2="947.99" stroke="#d6d6d6" stroke-width="0.8"/>
<line x1="264.5" y1="965.66" x2="424" y2="965.66" stroke="#d6d6d6" stroke-width="0.8"/>
<line x1="264.5" y1="983.33" x2="424" y2="983.33" stroke="#d6d6d6" stroke-width="0.8"/>
<line x1="264.5" y1="1001" x2="424" y2="1001" stroke="#d6d6d6" stroke-width="0.8"/>
<line x1="264.5" y1="1018.66" x2="424" y2="1018.66" stroke="#d6d6d6" stroke-width="0.8"/>
<line x1="264.5" y1="1036.33" x2="424" y2="1036.33" stroke="#d6d6d6" stroke-width="0.8"/>
<rect x="344.05" y="700.44" width="20.34" height="18.07" fill="#c6c7c9"/>
<rect x="304.18" y="718.1" width="20.34" height="18.07" fill="#c6c7c9"/>
<rect x="304.18" y="824.11" width="20.34" height="18.07" fill="#c6c7c9"/>
<rect x="344.05" y="859.45" width="20.34" height="18.07" fill="#c6c7c9"/>
<rect x="403.86" y="859.45" width="20.34" height="18.07" fill="#c6c7c9"/>
<rect x="264.3" y="877.12" width="20.34" height="18.07" fill="#c6c7c9"/>
<rect x="284.24" y="877.12" width="20.34" height="18.07" fill="#c6c7c9"/>
<rect x="383.93" y="877.12" width="20.34" height="18.07" fill="#c6c7c9"/>
<rect x="383.93" y="912.45" width="20.34" height="18.07" fill="#c6c7c9"/>
<rect x="324.11" y="930.12" width="20.34" height="18.07" fill="#c6c7c9"/>
<rect x="403.86" y="965.46" width="20.34" height="18.07" fill="#c6c7c9"/>
<rect x="264.3" y="1036.13" width="20.34" height="18.07" fill="#231f20"/>
<rect x="264.5" y="665.3" width="159.5" height="388.7" fill="none" stroke="#7a7a7a" stroke-width="1.1"/>
<text transform="translate(278.67,1060.5) rotate(-90)" x="0" y="0" font-size="11.6" fill="#363636" text-anchor="end" textLength="28.1" lengthAdjust="spacingAndGlyphs">88D2</text>
<text transform="translate(298.61,1060.5) rotate(-90)" x="0" y="0" font-size="11.6" fill="#363636" text-anchor="end" textLength="28.1" lengthAdjust="spacingAndGlyphs">88D3</text>
<text transform="translate(318.54,1060.5) rotate(-90)" x="0" y="0" font-size="11.6" fill="#363636" text-anchor="end" textLength="28.1" lengthAdjust="spacingAndGlyphs">88D4</text>
<text transform="translate(338.48,1060.5) rotate(-90)" x="0" y="0" font-size="11.6" fill="#363636" text-anchor="end" textLength="28.1" lengthAdjust="spacingAndGlyphs">88D6</text>
<text transform="translate(358.42,1060.5) rotate(-90)" x="0" y="0" font-size="11.6" fill="#363636" text-anchor="end" textLength="28.1" lengthAdjust="spacingAndGlyphs">88D8</text>
<text transform="translate(378.36,1060.5) rotate(-90)" x="0" y="0" font-size="11.6" fill="#363636" text-anchor="end" textLength="28.1" lengthAdjust="spacingAndGlyphs">88D9</text>
<text transform="translate(398.29,1060.5) rotate(-90)" x="0" y="0" font-size="11.6" fill="#363636" text-anchor="end" textLength="33.3" lengthAdjust="spacingAndGlyphs">88D10</text>
<text transform="translate(418.23,1060.5) rotate(-90)" x="0" y="0" font-size="11.6" fill="#363636" text-anchor="end" textLength="33.1" lengthAdjust="spacingAndGlyphs">88D12</text>
<rect x="430.7" y="646.3" width="18.99" height="15.2" fill="#de2a30"/>
<rect x="450.59" y="646.3" width="18.99" height="15.2" fill="#de2a30"/>
<rect x="470.47" y="646.3" width="18.99" height="15.2" fill="#de2a30"/>
<rect x="490.36" y="646.3" width="18.99" height="15.2" fill="#de2a30"/>
<rect x="510.24" y="646.3" width="18.99" height="15.2" fill="#de2a30"/>
<rect x="530.13" y="646.3" width="18.99" height="15.2" fill="#de2a30"/>
<rect x="550.01" y="646.3" width="18.99" height="15.2" fill="#de2a30"/>
<line x1="450.29" y1="665.3" x2="450.29" y2="1054" stroke="#d6d6d6" stroke-width="0.8"/>
<line x1="470.17" y1="665.3" x2="470.17" y2="1054" stroke="#d6d6d6" stroke-width="0.8"/>
<line x1="490.06" y1="665.3" x2="490.06" y2="1054" stroke="#d6d6d6" stroke-width="0.8"/>
<line x1="509.94" y1="665.3" x2="509.94" y2="1054" stroke="#d6d6d6" stroke-width="0.8"/>
<line x1="529.83" y1="665.3" x2="529.83" y2="1054" stroke="#d6d6d6" stroke-width="0.8"/>
<line x1="549.71" y1="665.3" x2="549.71" y2="1054" stroke="#d6d6d6" stroke-width="0.8"/>
<line x1="430.4" y1="682.97" x2="569.6" y2="682.97" stroke="#d6d6d6" stroke-width="0.8"/>
<line x1="430.4" y1="700.64" x2="569.6" y2="700.64" stroke="#d6d6d6" stroke-width="0.8"/>
<line x1="430.4" y1="718.3" x2="569.6" y2="718.3" stroke="#d6d6d6" stroke-width="0.8"/>
<line x1="430.4" y1="735.97" x2="569.6" y2="735.97" stroke="#d6d6d6" stroke-width="0.8"/>
<line x1="430.4" y1="753.64" x2="569.6" y2="753.64" stroke="#d6d6d6" stroke-width="0.8"/>
<line x1="430.4" y1="771.31" x2="569.6" y2="771.31" stroke="#d6d6d6" stroke-width="0.8"/>
<line x1="430.4" y1="788.98" x2="569.6" y2="788.98" stroke="#d6d6d6" stroke-width="0.8"/>
<line x1="430.4" y1="806.65" x2="569.6" y2="806.65" stroke="#d6d6d6" stroke-width="0.8"/>
<line x1="430.4" y1="824.31" x2="569.6" y2="824.31" stroke="#d6d6d6" stroke-width="0.8"/>
<line x1="430.4" y1="841.98" x2="569.6" y2="841.98" stroke="#d6d6d6" stroke-width="0.8"/>
<line x1="430.4" y1="859.65" x2="569.6" y2="859.65" stroke="#d6d6d6" stroke-width="0.8"/>
<line x1="430.4" y1="877.32" x2="569.6" y2="877.32" stroke="#d6d6d6" stroke-width="0.8"/>
<line x1="430.4" y1="894.99" x2="569.6" y2="894.99" stroke="#d6d6d6" stroke-width="0.8"/>
<line x1="430.4" y1="912.65" x2="569.6" y2="912.65" stroke="#d6d6d6" stroke-width="0.8"/>
<line x1="430.4" y1="930.32" x2="569.6" y2="930.32" stroke="#d6d6d6" stroke-width="0.8"/>
<line x1="430.4" y1="947.99" x2="569.6" y2="947.99" stroke="#d6d6d6" stroke-width="0.8"/>
<line x1="430.4" y1="965.66" x2="569.6" y2="965.66" stroke="#d6d6d6" stroke-width="0.8"/>
<line x1="430.4" y1="983.33" x2="569.6" y2="983.33" stroke="#d6d6d6" stroke-width="0.8"/>
<line x1="430.4" y1="1001" x2="569.6" y2="1001" stroke="#d6d6d6" stroke-width="0.8"/>
<line x1="430.4" y1="1018.66" x2="569.6" y2="1018.66" stroke="#d6d6d6" stroke-width="0.8"/>
<line x1="430.4" y1="1036.33" x2="569.6" y2="1036.33" stroke="#d6d6d6" stroke-width="0.8"/>
<rect x="450.09" y="665.1" width="20.29" height="18.07" fill="#c6c7c9"/>
<rect x="549.51" y="718.1" width="20.29" height="18.07" fill="#231f20"/>
<rect x="529.63" y="788.78" width="20.29" height="18.07" fill="#c6c7c9"/>
<rect x="549.51" y="806.45" width="20.29" height="18.07" fill="#c6c7c9"/>
<rect x="529.63" y="841.78" width="20.29" height="18.07" fill="#c6c7c9"/>
<rect x="450.09" y="859.45" width="20.29" height="18.07" fill="#c6c7c9"/>
<rect x="509.74" y="894.79" width="20.29" height="18.07" fill="#c6c7c9"/>
<rect x="430.2" y="912.45" width="20.29" height="18.07" fill="#c6c7c9"/>
<rect x="509.74" y="947.79" width="20.29" height="18.07" fill="#c6c7c9"/>
<rect x="509.74" y="983.13" width="20.29" height="18.07" fill="#c6c7c9"/>
<rect x="469.97" y="1000.8" width="20.29" height="18.07" fill="#c6c7c9"/>
<rect x="450.09" y="1018.46" width="20.29" height="18.07" fill="#c6c7c9"/>
<rect x="430.4" y="665.3" width="139.2" height="388.7" fill="none" stroke="#7a7a7a" stroke-width="1.1"/>
<text transform="translate(444.54,1060.5) rotate(-90)" x="0" y="0" font-size="11.6" fill="#363636" text-anchor="end" textLength="25.9" lengthAdjust="spacingAndGlyphs">88R1</text>
<text transform="translate(464.43,1060.5) rotate(-90)" x="0" y="0" font-size="11.6" fill="#363636" text-anchor="end" textLength="27.6" lengthAdjust="spacingAndGlyphs">88R2</text>
<text transform="translate(484.31,1060.5) rotate(-90)" x="0" y="0" font-size="11.6" fill="#363636" text-anchor="end" textLength="27.6" lengthAdjust="spacingAndGlyphs">88R3</text>
<text transform="translate(504.2,1060.5) rotate(-90)" x="0" y="0" font-size="11.6" fill="#363636" text-anchor="end" textLength="27.6" lengthAdjust="spacingAndGlyphs">88R7</text>
<text transform="translate(524.09,1060.5) rotate(-90)" x="0" y="0" font-size="11.6" fill="#363636" text-anchor="end" textLength="27.6" lengthAdjust="spacingAndGlyphs">88R8</text>
<text transform="translate(543.97,1060.5) rotate(-90)" x="0" y="0" font-size="11.6" fill="#363636" text-anchor="end" textLength="32.8" lengthAdjust="spacingAndGlyphs">88R10</text>
<text transform="translate(563.86,1060.5) rotate(-90)" x="0" y="0" font-size="11.6" fill="#363636" text-anchor="end" textLength="30.9" lengthAdjust="spacingAndGlyphs">88R11</text>
<text x="103.3" y="678.2" font-size="11.6" fill="#363636" textLength="29.75" lengthAdjust="spacingAndGlyphs">Actn1</text>
<text x="109.66" y="695.87" font-size="11.6" fill="#363636" textLength="22.78" lengthAdjust="spacingAndGlyphs">Flna</text>
<text x="108.8" y="713.54" font-size="11.6" fill="#363636" textLength="24.2" lengthAdjust="spacingAndGlyphs">Flnb</text>
<text x="104.88" y="731.2" font-size="11.6" fill="#363636" textLength="28.14" lengthAdjust="spacingAndGlyphs">Myh1</text>
<text x="100.1" y="748.87" font-size="11.6" fill="#363636" textLength="32.93" lengthAdjust="spacingAndGlyphs">Myh11</text>
<text x="98.28" y="766.54" font-size="11.6" fill="#363636" textLength="34.71" lengthAdjust="spacingAndGlyphs">Myh15</text>
<text x="103.12" y="784.21" font-size="11.6" fill="#363636" textLength="29.93" lengthAdjust="spacingAndGlyphs">Myh2</text>
<text x="101.99" y="801.88" font-size="11.6" fill="#363636" textLength="30.83" lengthAdjust="spacingAndGlyphs">Myh4</text>
<text x="103.12" y="819.55" font-size="11.6" fill="#363636" textLength="29.93" lengthAdjust="spacingAndGlyphs">Myh7</text>
<text x="107.12" y="837.21" font-size="11.6" fill="#363636" textLength="25.95" lengthAdjust="spacingAndGlyphs">Myl7</text>
<text x="96.32" y="854.88" font-size="11.6" fill="#363636" textLength="36.62" lengthAdjust="spacingAndGlyphs">Myo10</text>
<text x="98.28" y="872.55" font-size="11.6" fill="#363636" textLength="34.71" lengthAdjust="spacingAndGlyphs">Myo15</text>
<text x="91.17" y="890.22" font-size="11.6" fill="#363636" textLength="41.3" lengthAdjust="spacingAndGlyphs">Myo18a</text>
<text x="97.14" y="907.89" font-size="11.6" fill="#363636" textLength="36.1" lengthAdjust="spacingAndGlyphs">Myo1d</text>
<text x="100.36" y="925.55" font-size="11.6" fill="#363636" textLength="32.12" lengthAdjust="spacingAndGlyphs">Myo1f</text>
<text x="97.14" y="943.22" font-size="11.6" fill="#363636" textLength="36.1" lengthAdjust="spacingAndGlyphs">Myo1g</text>
<text x="94.78" y="960.89" font-size="11.6" fill="#363636" textLength="38.25" lengthAdjust="spacingAndGlyphs">Myo3b</text>
<text x="95.71" y="978.56" font-size="11.6" fill="#363636" textLength="37.31" lengthAdjust="spacingAndGlyphs">Myo7b</text>
<text x="95.72" y="996.23" font-size="11.6" fill="#363636" textLength="36.74" lengthAdjust="spacingAndGlyphs">Myo9a</text>
<text x="94.78" y="1013.9" font-size="11.6" fill="#363636" textLength="38.25" lengthAdjust="spacingAndGlyphs">Myo9b</text>
<text x="108.84" y="1031.56" font-size="11.6" fill="#363636" textLength="24.42" lengthAdjust="spacingAndGlyphs">Scin</text>
<text x="106.52" y="1049.23" font-size="11.6" fill="#363636" textLength="26.52" lengthAdjust="spacingAndGlyphs">Sptb</text>
<text x="188.5" y="640.9" font-size="11.6" fill="#363636" textLength="17.32" lengthAdjust="spacingAndGlyphs">WT</text>
<text x="318.22" y="640.8" font-size="11.6" fill="#363636" textLength="54.5" lengthAdjust="spacingAndGlyphs">DNGR-1<tspan font-size="8.82" dy="-5.8">KO</tspan></text>
<text x="483.21" y="641.3" font-size="11.6" fill="#363636" textLength="36.31" lengthAdjust="spacingAndGlyphs">RAG<tspan font-size="8.82" dy="-5.8">KO</tspan></text>
<text x="576.02" y="651.7" font-size="11.6" fill="#363636" textLength="42.17" lengthAdjust="spacingAndGlyphs">Primary</text>
<text x="576.7" y="664.5" font-size="11.6" fill="#363636">host</text>
<text x="580.19" y="811.3" font-size="11.6" fill="#363636" textLength="59.2" lengthAdjust="spacingAndGlyphs">Number of</text>
<text x="580.38" y="824.9" font-size="11.6" fill="#363636" textLength="68.65" lengthAdjust="spacingAndGlyphs">neoantigens</text>
<rect x="592.8" y="835" width="9.6" height="9.4" fill="#ffffff" stroke="#d0d0d0" stroke-width="0.9"/>
<rect x="592.3" y="853" width="10.4" height="10.4" fill="#c6c7c9"/>
<rect x="592.3" y="871.8" width="10.4" height="10" fill="#231f20"/>
<text x="607.8" y="843.6" font-size="10.2" fill="#4a4a4a">0</text>
<text x="607.8" y="862" font-size="10.2" fill="#4a4a4a">1</text>
<text x="607.8" y="880.5" font-size="10.2" fill="#4a4a4a">2</text>
<text x="94.6" y="639.7" font-size="18" fill="#111" font-weight="bold">f</text>
</svg>
</div></body></html>
